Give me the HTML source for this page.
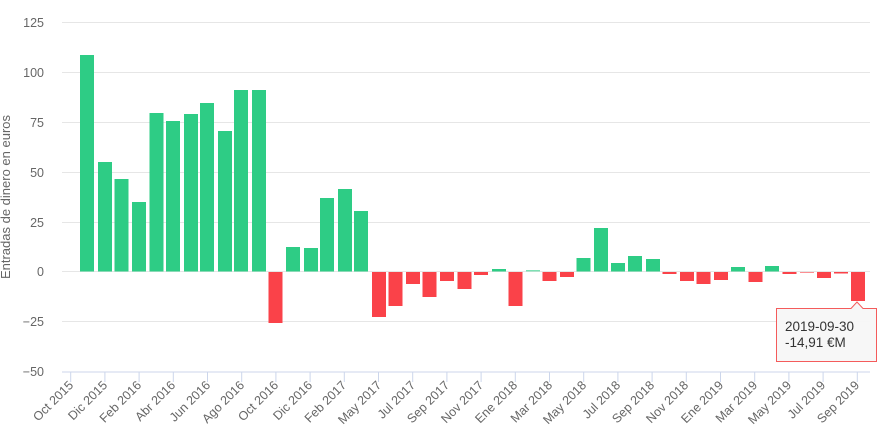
<!DOCTYPE html>
<html><head><meta charset="utf-8"><style>
html,body{margin:0;padding:0;background:#fff;}
svg{display:block;font-family:"Liberation Sans",sans-serif;}
</style></head><body>
<svg width="884" height="436" viewBox="0 0 884 436" xmlns="http://www.w3.org/2000/svg">
<g stroke="#e6e6e6" stroke-width="1">
<line x1="62" y1="22.5" x2="870" y2="22.5"/>
<line x1="62" y1="72.5" x2="870" y2="72.5"/>
<line x1="62" y1="122.5" x2="870" y2="122.5"/>
<line x1="62" y1="172.5" x2="870" y2="172.5"/>
<line x1="62" y1="222.5" x2="870" y2="222.5"/>
<line x1="62" y1="271.5" x2="870" y2="271.5"/>
<line x1="62" y1="321.5" x2="870" y2="321.5"/>
</g>
<line x1="62" y1="372" x2="870" y2="372" stroke="#ccd6eb" stroke-width="1"/>
<g fill="#666" font-size="12.5" text-anchor="end">
<text x="44" y="27">125</text>
<text x="44" y="77">100</text>
<text x="44" y="127">75</text>
<text x="44" y="177">50</text>
<text x="44" y="227">25</text>
<text x="44" y="276">0</text>
<text x="44" y="326">−25</text>
<text x="44" y="376">−50</text>
</g>
<text transform="translate(10,197) rotate(-90)" text-anchor="middle" fill="#666" font-size="13">Entradas de dinero en euros</text>
<g fill="#2ecc85">
<rect x="80" y="55" width="14" height="216.5"/>
<rect x="98" y="162" width="14" height="109.5"/>
<rect x="114.5" y="179" width="14" height="92.5"/>
<rect x="132" y="202" width="14" height="69.5"/>
<rect x="149.5" y="113" width="14" height="158.5"/>
<rect x="166" y="121" width="14" height="150.5"/>
<rect x="184" y="114" width="14" height="157.5"/>
<rect x="200" y="103" width="14" height="168.5"/>
<rect x="218" y="131" width="14" height="140.5"/>
<rect x="234" y="90" width="14" height="181.5"/>
<rect x="252" y="90" width="14" height="181.5"/>
<rect x="286" y="247" width="14" height="24.5"/>
<rect x="304" y="248" width="14" height="23.5"/>
<rect x="320" y="198" width="14" height="73.5"/>
<rect x="338" y="189" width="14" height="82.5"/>
<rect x="354" y="211" width="14" height="60.5"/>
<rect x="492" y="269" width="14" height="2.5"/>
<rect x="526" y="270" width="14" height="1.5" fill="#7fe0b4"/>
<rect x="576.5" y="258" width="14" height="13.5"/>
<rect x="594" y="228" width="14" height="43.5"/>
<rect x="611" y="263" width="14" height="8.5"/>
<rect x="628" y="256" width="14" height="15.5"/>
<rect x="646" y="259" width="14" height="12.5"/>
<rect x="731" y="267" width="14" height="4.5"/>
<rect x="765" y="266" width="14" height="5.5"/>
</g>
<g fill="#fa4249">
<rect x="268.5" y="272" width="14" height="51"/>
<rect x="372" y="272" width="14" height="45"/>
<rect x="388.5" y="272" width="14" height="34"/>
<rect x="406" y="272" width="14" height="12"/>
<rect x="422.5" y="272" width="14" height="25"/>
<rect x="440" y="272" width="14" height="9"/>
<rect x="457.5" y="272" width="14" height="17"/>
<rect x="474" y="272" width="14" height="3"/>
<rect x="508.5" y="272" width="14" height="34"/>
<rect x="542.5" y="272" width="14" height="9"/>
<rect x="560" y="272" width="14" height="5"/>
<rect x="662.5" y="272" width="14" height="2"/>
<rect x="680" y="272" width="14" height="9"/>
<rect x="696.5" y="272" width="14" height="12"/>
<rect x="714" y="272" width="14" height="8"/>
<rect x="748.5" y="272" width="14" height="10"/>
<rect x="782.5" y="272" width="14" height="2"/>
<rect x="800" y="272" width="14" height="0.6"/>
<rect x="817" y="272" width="14" height="6"/>
<rect x="834" y="272" width="14" height="1.5"/>
<rect x="851" y="272" width="14" height="29"/>
</g>
<g stroke="#ccd6eb" stroke-width="1">
<line x1="70.7" y1="372" x2="70.7" y2="382"/><line x1="104.9" y1="372" x2="104.9" y2="382"/><line x1="139.1" y1="372" x2="139.1" y2="382"/><line x1="173.3" y1="372" x2="173.3" y2="382"/><line x1="207.5" y1="372" x2="207.5" y2="382"/><line x1="241.7" y1="372" x2="241.7" y2="382"/><line x1="275.9" y1="372" x2="275.9" y2="382"/><line x1="310.1" y1="372" x2="310.1" y2="382"/><line x1="344.3" y1="372" x2="344.3" y2="382"/><line x1="378.5" y1="372" x2="378.5" y2="382"/><line x1="412.7" y1="372" x2="412.7" y2="382"/><line x1="446.9" y1="372" x2="446.9" y2="382"/><line x1="481.1" y1="372" x2="481.1" y2="382"/><line x1="515.3" y1="372" x2="515.3" y2="382"/><line x1="549.5" y1="372" x2="549.5" y2="382"/><line x1="583.7" y1="372" x2="583.7" y2="382"/><line x1="617.9" y1="372" x2="617.9" y2="382"/><line x1="652.1" y1="372" x2="652.1" y2="382"/><line x1="686.3" y1="372" x2="686.3" y2="382"/><line x1="720.5" y1="372" x2="720.5" y2="382"/><line x1="754.7" y1="372" x2="754.7" y2="382"/><line x1="788.9" y1="372" x2="788.9" y2="382"/><line x1="823.1" y1="372" x2="823.1" y2="382"/><line x1="857.3" y1="372" x2="857.3" y2="382"/>
</g>
<g fill="#666" font-size="12.5" text-anchor="end">
<text transform="translate(74,386) rotate(-45)">Oct 2015</text>
<text transform="translate(108,386) rotate(-45)">Dic 2015</text>
<text transform="translate(142,386) rotate(-45)">Feb 2016</text>
<text transform="translate(176,386) rotate(-45)">Abr 2016</text>
<text transform="translate(211,386) rotate(-45)">Jun 2016</text>
<text transform="translate(245,386) rotate(-45)">Ago 2016</text>
<text transform="translate(279,386) rotate(-45)">Oct 2016</text>
<text transform="translate(313,386) rotate(-45)">Dic 2016</text>
<text transform="translate(347,386) rotate(-45)">Feb 2017</text>
<text transform="translate(382,386) rotate(-45)">May 2017</text>
<text transform="translate(416,386) rotate(-45)">Jul 2017</text>
<text transform="translate(450,386) rotate(-45)">Sep 2017</text>
<text transform="translate(484,386) rotate(-45)">Nov 2017</text>
<text transform="translate(518,386) rotate(-45)">Ene 2018</text>
<text transform="translate(553,386) rotate(-45)">Mar 2018</text>
<text transform="translate(587,386) rotate(-45)">May 2018</text>
<text transform="translate(621,386) rotate(-45)">Jul 2018</text>
<text transform="translate(655,386) rotate(-45)">Sep 2018</text>
<text transform="translate(689,386) rotate(-45)">Nov 2018</text>
<text transform="translate(724,386) rotate(-45)">Ene 2019</text>
<text transform="translate(758,386) rotate(-45)">Mar 2019</text>
<text transform="translate(792,386) rotate(-45)">May 2019</text>
<text transform="translate(826,386) rotate(-45)">Jul 2019</text>
<text transform="translate(860,386) rotate(-45)">Sep 2019</text>
</g>
<path d="M776.5,308.5 H851 L857,302 L863,308.5 H876.5 V361.5 H776.5 Z" fill="#f7f7f7" fill-opacity="0.95" stroke="#f45b5b" stroke-width="1"/>
<g fill="#333" font-size="13.5">
<text x="785" y="331">2019-09-30</text>
<text x="785" y="347">-14,91 €M</text>
</g>
</svg>
</body></html>
